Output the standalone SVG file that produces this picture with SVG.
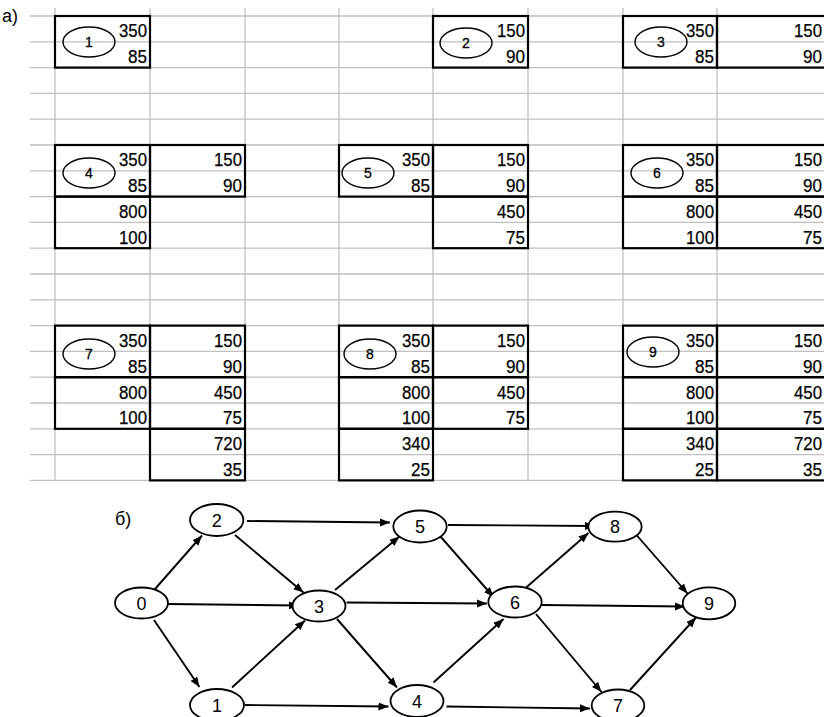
<svg xmlns="http://www.w3.org/2000/svg" width="824" height="717" viewBox="0 0 824 717">
<style>
.grid{stroke:#c0c0c0;stroke-width:1.3;fill:none}
.box{stroke:#000;stroke-width:2.2;fill:none}
.v{font-family:"Liberation Sans",Arial,sans-serif;font-size:18.5px;text-anchor:end;fill:#000;stroke:#000;stroke-width:0.25}
.ov{fill:none;stroke:#000;stroke-width:1.4}
.ol{font-family:"Liberation Sans",Arial,sans-serif;font-size:14px;text-anchor:middle;fill:#000;stroke:#000;stroke-width:0.3}
.gn{fill:#fff;stroke:#000;stroke-width:1.8}
.gl{font-family:"Liberation Sans",Arial,sans-serif;font-size:18px;text-anchor:middle;fill:#000}
.lab{font-family:"Liberation Sans",Arial,sans-serif;font-size:18px;fill:#000}
.e{stroke:#000;stroke-width:1.9;fill:none;marker-end:url(#ah)}
</style>
<defs>
<marker id="ah" markerUnits="userSpaceOnUse" markerWidth="12" markerHeight="10" refX="10" refY="4" orient="auto">
<path d="M0,0 L10,4 L0,8 Z" fill="#000"/>
</marker>
</defs>
<rect x="0" y="0" width="824" height="717" fill="#fff"/>
<text class="lab" x="2" y="22">а)</text>
<g id="grid" class="grid">
<path d="M30,16H824M30,41.8H824M30,67.6H824M30,93.4H824M30,119.2H824M30,145H824M30,170.8H824M30,196.6H824M30,222.4H824M30,248.2H824M30,274H824M30,299.8H824M30,325.6H824M30,351.4H824M30,377.2H824M30,403H824M30,428.8H824M30,454.6H824M30,480.4H824"/>
<path d="M55,8V481M150,8V481M245,8V481M339,8V481M433,8V481M528,8V481M623,8V481M717,8V481"/>
</g>
<g id="tile1">
<rect class="box" x="55" y="16" width="95" height="51.6"/>
<ellipse class="ov" cx="89" cy="42" rx="26" ry="15"/><text class="ol" x="89" y="47">1</text>
<text class="v" x="147" y="37.3" textLength="28" lengthAdjust="spacingAndGlyphs">350</text>
<text class="v" x="147" y="63.1" textLength="19" lengthAdjust="spacingAndGlyphs">85</text>
</g>
<g id="tile2">
<rect class="box" x="433" y="16" width="95" height="51.6"/>
<ellipse class="ov" cx="466" cy="43" rx="26" ry="15"/><text class="ol" x="466" y="48">2</text>
<text class="v" x="525" y="37.3" textLength="28" lengthAdjust="spacingAndGlyphs">150</text>
<text class="v" x="525" y="63.1" textLength="19" lengthAdjust="spacingAndGlyphs">90</text>
</g>
<g id="tile3">
<rect class="box" x="623" y="16" width="94" height="51.6"/>
<rect class="box" x="717" y="16" width="109" height="51.6"/>
<ellipse class="ov" cx="661" cy="42" rx="26" ry="15"/><text class="ol" x="661" y="47">3</text>
<text class="v" x="714" y="37.3" textLength="28" lengthAdjust="spacingAndGlyphs">350</text>
<text class="v" x="714" y="63.1" textLength="19" lengthAdjust="spacingAndGlyphs">85</text>
<text class="v" x="822" y="37.3" textLength="28" lengthAdjust="spacingAndGlyphs">150</text>
<text class="v" x="822" y="63.1" textLength="19" lengthAdjust="spacingAndGlyphs">90</text>
</g>
<g id="tile4">
<rect class="box" x="55" y="145" width="95" height="51.6"/>
<rect class="box" x="150" y="145" width="95" height="51.6"/>
<rect class="box" x="55" y="196.6" width="95" height="51.6"/>
<ellipse class="ov" cx="89" cy="173" rx="26" ry="15"/><text class="ol" x="89" y="178">4</text>
<text class="v" x="147" y="166.3" textLength="28" lengthAdjust="spacingAndGlyphs">350</text>
<text class="v" x="147" y="192.1" textLength="19" lengthAdjust="spacingAndGlyphs">85</text>
<text class="v" x="242" y="166.3" textLength="28" lengthAdjust="spacingAndGlyphs">150</text>
<text class="v" x="242" y="192.1" textLength="19" lengthAdjust="spacingAndGlyphs">90</text>
<text class="v" x="147" y="217.9" textLength="28" lengthAdjust="spacingAndGlyphs">800</text>
<text class="v" x="147" y="243.7" textLength="28" lengthAdjust="spacingAndGlyphs">100</text>
</g>
<g id="tile5">
<rect class="box" x="339" y="145" width="94" height="51.6"/>
<rect class="box" x="433" y="145" width="95" height="51.6"/>
<rect class="box" x="433" y="196.6" width="95" height="51.6"/>
<ellipse class="ov" cx="368" cy="173" rx="26" ry="15"/><text class="ol" x="368" y="178">5</text>
<text class="v" x="430" y="166.3" textLength="28" lengthAdjust="spacingAndGlyphs">350</text>
<text class="v" x="430" y="192.1" textLength="19" lengthAdjust="spacingAndGlyphs">85</text>
<text class="v" x="525" y="166.3" textLength="28" lengthAdjust="spacingAndGlyphs">150</text>
<text class="v" x="525" y="192.1" textLength="19" lengthAdjust="spacingAndGlyphs">90</text>
<text class="v" x="525" y="217.9" textLength="28" lengthAdjust="spacingAndGlyphs">450</text>
<text class="v" x="525" y="243.7" textLength="19" lengthAdjust="spacingAndGlyphs">75</text>
</g>
<g id="tile6">
<rect class="box" x="623" y="145" width="94" height="51.6"/>
<rect class="box" x="717" y="145" width="109" height="51.6"/>
<rect class="box" x="623" y="196.6" width="94" height="51.6"/>
<rect class="box" x="717" y="196.6" width="109" height="51.6"/>
<ellipse class="ov" cx="657" cy="173" rx="26" ry="15"/><text class="ol" x="657" y="178">6</text>
<text class="v" x="714" y="166.3" textLength="28" lengthAdjust="spacingAndGlyphs">350</text>
<text class="v" x="714" y="192.1" textLength="19" lengthAdjust="spacingAndGlyphs">85</text>
<text class="v" x="822" y="166.3" textLength="28" lengthAdjust="spacingAndGlyphs">150</text>
<text class="v" x="822" y="192.1" textLength="19" lengthAdjust="spacingAndGlyphs">90</text>
<text class="v" x="714" y="217.9" textLength="28" lengthAdjust="spacingAndGlyphs">800</text>
<text class="v" x="714" y="243.7" textLength="28" lengthAdjust="spacingAndGlyphs">100</text>
<text class="v" x="822" y="217.9" textLength="28" lengthAdjust="spacingAndGlyphs">450</text>
<text class="v" x="822" y="243.7" textLength="19" lengthAdjust="spacingAndGlyphs">75</text>
</g>
<g id="tile7">
<rect class="box" x="55" y="325.6" width="95" height="51.6"/>
<rect class="box" x="150" y="325.6" width="95" height="51.6"/>
<rect class="box" x="55" y="377.2" width="95" height="51.6"/>
<rect class="box" x="150" y="377.2" width="95" height="51.6"/>
<rect class="box" x="150" y="428.8" width="95" height="51.6"/>
<ellipse class="ov" cx="89" cy="354" rx="26" ry="15"/><text class="ol" x="89" y="359">7</text>
<text class="v" x="147" y="346.9" textLength="28" lengthAdjust="spacingAndGlyphs">350</text>
<text class="v" x="147" y="372.7" textLength="19" lengthAdjust="spacingAndGlyphs">85</text>
<text class="v" x="242" y="346.9" textLength="28" lengthAdjust="spacingAndGlyphs">150</text>
<text class="v" x="242" y="372.7" textLength="19" lengthAdjust="spacingAndGlyphs">90</text>
<text class="v" x="147" y="398.5" textLength="28" lengthAdjust="spacingAndGlyphs">800</text>
<text class="v" x="147" y="424.3" textLength="28" lengthAdjust="spacingAndGlyphs">100</text>
<text class="v" x="242" y="398.5" textLength="28" lengthAdjust="spacingAndGlyphs">450</text>
<text class="v" x="242" y="424.3" textLength="19" lengthAdjust="spacingAndGlyphs">75</text>
<text class="v" x="242" y="450.1" textLength="28" lengthAdjust="spacingAndGlyphs">720</text>
<text class="v" x="242" y="475.9" textLength="19" lengthAdjust="spacingAndGlyphs">35</text>
</g>
<g id="tile8">
<rect class="box" x="339" y="325.6" width="94" height="51.6"/>
<rect class="box" x="433" y="325.6" width="95" height="51.6"/>
<rect class="box" x="339" y="377.2" width="94" height="51.6"/>
<rect class="box" x="433" y="377.2" width="95" height="51.6"/>
<rect class="box" x="339" y="428.8" width="94" height="51.6"/>
<ellipse class="ov" cx="370" cy="354" rx="26" ry="15"/><text class="ol" x="370" y="359">8</text>
<text class="v" x="430" y="346.9" textLength="28" lengthAdjust="spacingAndGlyphs">350</text>
<text class="v" x="430" y="372.7" textLength="19" lengthAdjust="spacingAndGlyphs">85</text>
<text class="v" x="525" y="346.9" textLength="28" lengthAdjust="spacingAndGlyphs">150</text>
<text class="v" x="525" y="372.7" textLength="19" lengthAdjust="spacingAndGlyphs">90</text>
<text class="v" x="430" y="398.5" textLength="28" lengthAdjust="spacingAndGlyphs">800</text>
<text class="v" x="430" y="424.3" textLength="28" lengthAdjust="spacingAndGlyphs">100</text>
<text class="v" x="525" y="398.5" textLength="28" lengthAdjust="spacingAndGlyphs">450</text>
<text class="v" x="525" y="424.3" textLength="19" lengthAdjust="spacingAndGlyphs">75</text>
<text class="v" x="430" y="450.1" textLength="28" lengthAdjust="spacingAndGlyphs">340</text>
<text class="v" x="430" y="475.9" textLength="19" lengthAdjust="spacingAndGlyphs">25</text>
</g>
<g id="tile9">
<rect class="box" x="623" y="325.6" width="94" height="51.6"/>
<rect class="box" x="717" y="325.6" width="109" height="51.6"/>
<rect class="box" x="623" y="377.2" width="94" height="51.6"/>
<rect class="box" x="717" y="377.2" width="109" height="51.6"/>
<rect class="box" x="623" y="428.8" width="94" height="51.6"/>
<rect class="box" x="717" y="428.8" width="109" height="51.6"/>
<ellipse class="ov" cx="653" cy="352" rx="26" ry="15"/><text class="ol" x="653" y="357">9</text>
<text class="v" x="714" y="346.9" textLength="28" lengthAdjust="spacingAndGlyphs">350</text>
<text class="v" x="714" y="372.7" textLength="19" lengthAdjust="spacingAndGlyphs">85</text>
<text class="v" x="822" y="346.9" textLength="28" lengthAdjust="spacingAndGlyphs">150</text>
<text class="v" x="822" y="372.7" textLength="19" lengthAdjust="spacingAndGlyphs">90</text>
<text class="v" x="714" y="398.5" textLength="28" lengthAdjust="spacingAndGlyphs">800</text>
<text class="v" x="714" y="424.3" textLength="28" lengthAdjust="spacingAndGlyphs">100</text>
<text class="v" x="822" y="398.5" textLength="28" lengthAdjust="spacingAndGlyphs">450</text>
<text class="v" x="822" y="424.3" textLength="19" lengthAdjust="spacingAndGlyphs">75</text>
<text class="v" x="714" y="450.1" textLength="28" lengthAdjust="spacingAndGlyphs">340</text>
<text class="v" x="714" y="475.9" textLength="19" lengthAdjust="spacingAndGlyphs">25</text>
<text class="v" x="822" y="450.1" textLength="28" lengthAdjust="spacingAndGlyphs">720</text>
<text class="v" x="822" y="475.9" textLength="19" lengthAdjust="spacingAndGlyphs">35</text>
</g>
<text class="lab" x="115" y="525">б)</text>
<g id="connectors">
<line class="e" x1="155" y1="589" x2="202" y2="535.5"/>
<line class="e" x1="168" y1="604" x2="299" y2="605.5"/>
<line class="e" x1="154" y1="620" x2="199.5" y2="687"/>
<line class="e" x1="247" y1="521" x2="390" y2="522.5"/>
<line class="e" x1="235" y1="535" x2="303.5" y2="592.5"/>
<line class="e" x1="232" y1="687.5" x2="305" y2="620.5"/>
<line class="e" x1="245" y1="705" x2="388.5" y2="706.5"/>
<line class="e" x1="335" y1="590" x2="399.5" y2="536.5"/>
<line class="e" x1="346.5" y1="602.5" x2="487" y2="603.5"/>
<line class="e" x1="337" y1="619" x2="397" y2="687.5"/>
<line class="e" x1="448" y1="525" x2="595" y2="526"/>
<line class="e" x1="440.5" y1="536.5" x2="493.5" y2="597"/>
<line class="e" x1="433.5" y1="682.5" x2="503.5" y2="619"/>
<line class="e" x1="446.5" y1="706.5" x2="590" y2="708.5"/>
<line class="e" x1="525" y1="588.5" x2="588.5" y2="533"/>
<line class="e" x1="541.5" y1="605" x2="685" y2="606.5"/>
<line class="e" x1="536" y1="614" x2="601.5" y2="692"/>
<line class="e" x1="636.5" y1="535" x2="687.5" y2="593.5"/>
<line class="e" x1="630" y1="690" x2="696" y2="617.5"/>
</g>
<g id="n0"><ellipse class="gn" cx="141.5" cy="603" rx="26.5" ry="15.5"/><text class="gl" x="141.5" y="609.5">0</text></g>
<g id="n1"><ellipse class="gn" cx="217" cy="705" rx="27" ry="16"/><text class="gl" x="217" y="711.5">1</text></g>
<g id="n2"><ellipse class="gn" cx="216.7" cy="520" rx="26.7" ry="16"/><text class="gl" x="216.7" y="526.5">2</text></g>
<g id="n3"><ellipse class="gn" cx="319" cy="606" rx="26.5" ry="15.5"/><text class="gl" x="319" y="612.5">3</text></g>
<g id="n4"><ellipse class="gn" cx="417" cy="701" rx="26.5" ry="16"/><text class="gl" x="417" y="707.5">4</text></g>
<g id="n5"><ellipse class="gn" cx="420" cy="526.5" rx="26.7" ry="16"/><text class="gl" x="420" y="533">5</text></g>
<g id="n6"><ellipse class="gn" cx="515" cy="602" rx="26.7" ry="15.5"/><text class="gl" x="515" y="608.5">6</text></g>
<g id="n7"><ellipse class="gn" cx="618" cy="705.5" rx="26.3" ry="16"/><text class="gl" x="618" y="712">7</text></g>
<g id="n8"><ellipse class="gn" cx="615" cy="526.7" rx="26.7" ry="15"/><text class="gl" x="615" y="533.2">8</text></g>
<g id="n9"><ellipse class="gn" cx="709" cy="603.3" rx="26.3" ry="16"/><text class="gl" x="709" y="609.8">9</text></g>
</svg>
